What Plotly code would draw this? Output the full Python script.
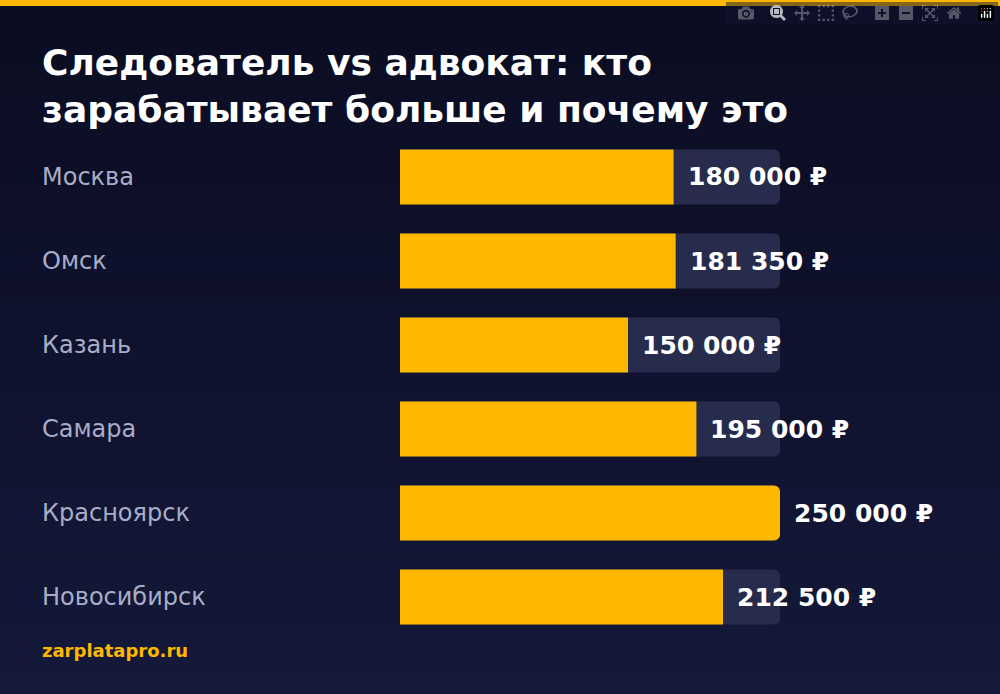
import plotly.graph_objects as go

cities = ["Москва", "Омск", "Казань", "Самара", "Красноярск", "Новосибирск"]
salaries = [180000, 181350, 150000, 195000, 250000, 212500]
labels = ["180 000 ₽", "181 350 ₽", "150 000 ₽", "195 000 ₽", "250 000 ₽", "212 500 ₽"]
max_val = 250000

W, H = 1000, 694
fig = go.Figure()
fig.add_trace(go.Bar(y=cities, x=[max_val]*len(cities), orientation="h",
                     marker=dict(color="#272c4d", cornerradius=6, line=dict(width=0)), width=0.655,
                     hoverinfo="skip"))
fig.add_trace(go.Bar(y=cities, x=salaries, orientation="h",
                     marker=dict(color="#ffb800", cornerradius=6, line=dict(width=0)), width=0.655))

shapes = []
n = 30
for i in range(n):
    t = i/(n-1)
    r = int(11 + (21-11)*t); g = int(13 + (25-13)*t); b = int(34 + (58-34)*t)
    shapes.append(dict(type="rect", xref="paper", yref="paper", x0=0, x1=1,
                       y0=1-(i+1)/n, y1=1-i/n, fillcolor=f"rgb({r},{g},{b})",
                       line=dict(width=0), layer="below"))
shapes.append(dict(type="rect", xref="paper", yref="paper", x0=0, x1=1,
                   y0=1-6/H, y1=1, fillcolor="#ffb800", line=dict(width=0)))

ann = []
for c in cities:
    ann.append(dict(x=0.04, xref="paper", y=c, yref="y", text=c, showarrow=False,
                    xanchor="left", font=dict(color="#a8adc8", size=24, family="DejaVu Sans")))
for c, v, l in zip(cities, salaries, labels):
    ann.append(dict(x=v, xref="x", y=c, yref="y", text=f"<b>{l}</b>", showarrow=False,
                    xanchor="left", xshift=12,
                    font=dict(color="white", size=25, family="DejaVu Sans")))
ann.append(dict(x=0.04, xref="paper", y=1-86/H, yref="paper", showarrow=False, xanchor="left",
                yanchor="middle",
                text="<b>Следователь vs адвокат: кто<br>зарабатывает больше и почему это</b>",
                align="left", font=dict(color="white", size=36, family="DejaVu Sans")))
ann.append(dict(x=0.04, xref="paper", y=1-663/H, yref="paper", showarrow=False, xanchor="left",
                text="<b>zarplatapro.ru</b>", font=dict(color="#ffb800", size=18, family="DejaVu Sans")))

fig.update_layout(width=W, height=H, margin=dict(l=0, r=0, t=0, b=0), barmode="overlay",
                  showlegend=False, paper_bgcolor="#10132e", plot_bgcolor="rgba(0,0,0,0)",
                  shapes=shapes, annotations=ann,
                  xaxis=dict(domain=[0.4, 0.78], range=[0, max_val], visible=False),
                  yaxis=dict(domain=[1-639/H, 1-135/H], range=[5.5, -0.5], visible=False,
                             categoryorder="array", categoryarray=cities))
fig.write_html("out.html")
with open("out.html", encoding="utf-8") as f:
    html = f.read()
html = html.replace("<body>", '<body style="margin:0;background:#10132e">', 1)
with open("out.html", "w", encoding="utf-8") as f:
    f.write(html)
